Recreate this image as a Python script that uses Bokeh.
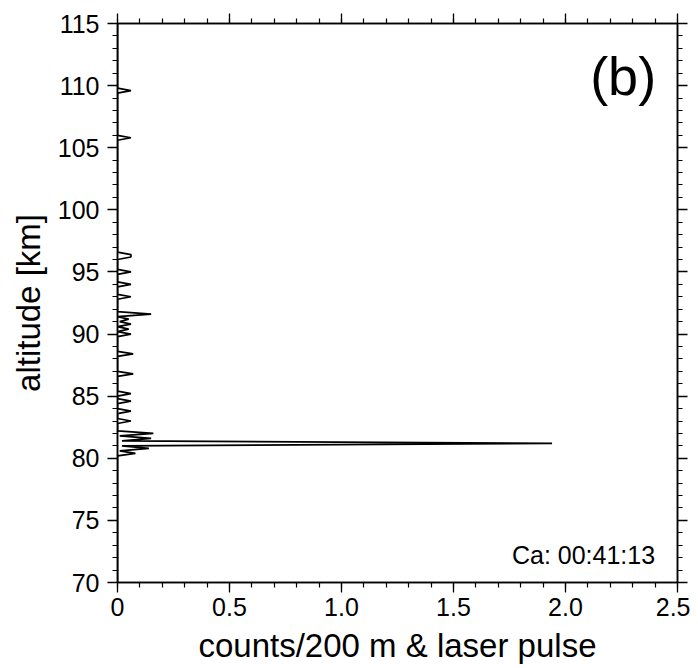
from bokeh.plotting import figure
from bokeh.models import (LinearAxis, SingleIntervalTicker, PrintfTickFormatter,
                          CustomJSTickFormatter, Label, Range1d)
from bokeh.embed import file_html
from bokeh.resources import INLINE

# --- data: altitude profile (km) and counts per 200 m & laser pulse ---
altitude = [70.0, 80.2, 80.4, 80.6, 80.8, 81.0, 81.2, 81.4, 81.6, 81.8, 82.0, 82.2,
            82.8, 83.0, 83.2, 83.6, 83.8, 84.0, 84.4, 84.6, 84.8, 85.0, 85.2, 85.4,
            86.6, 86.8, 87.0, 88.2, 88.4, 88.6, 89.8, 90.0, 90.2, 90.4, 90.6, 90.8,
            91.0, 91.2, 91.4, 91.6, 91.8, 92.8, 93.0, 93.2, 93.8, 94.0, 94.2, 94.8,
            95.0, 95.2, 96.0, 96.2, 96.4, 96.6, 105.6, 105.8, 106.0, 109.4, 109.6,
            109.8, 115.0]
counts = [0.0, 0.0, 0.08, 0.01, 0.14, 0.02, 1.94, 0.02, 0.15, 0.01, 0.16, 0.0,
          0.0, 0.06, 0.0, 0.0, 0.06, 0.0, 0.0, 0.06, 0.0, 0.0, 0.06, 0.0,
          0.0, 0.07, 0.0, 0.0, 0.07, 0.0, 0.0, 0.06, 0.0, 0.05, 0.0, 0.06,
          0.01, 0.05, 0.0, 0.15, 0.0, 0.0, 0.06, 0.0, 0.0, 0.06, 0.0, 0.0,
          0.06, 0.0, 0.0, 0.06, 0.06, 0.0, 0.0, 0.06, 0.0, 0.0, 0.06,
          0.0, 0.0]

x_range = (0.0, 2.5)
y_range = (70.0, 115.0)
x_label = "counts/200 m & laser pulse"
y_label = "altitude [km]"
panel_tag = "(b)"
time_tag = "Ca: 00:41:13"

FONT = "Liberation Sans"

p = figure(output_backend="svg", toolbar_location=None,
           frame_width=560, frame_height=559,
           min_border_left=117, min_border_right=13,
           min_border_top=23, min_border_bottom=86,
           x_range=Range1d(*x_range), y_range=Range1d(*y_range),
           x_axis_location=None, y_axis_location=None,
           background_fill_color="white", border_fill_color="white")
p.xgrid.visible = False
p.ygrid.visible = False
p.outline_line_color = "black"
p.outline_line_width = 1.5


def style(ax, labels=True):
    ax.axis_line_color = "black"
    ax.axis_line_width = 1.5
    ax.major_tick_line_color = "black"
    ax.minor_tick_line_color = "black"
    ax.major_tick_line_width = 1.3
    ax.minor_tick_line_width = 1.2
    ax.major_tick_out = 10
    ax.major_tick_in = 0
    ax.minor_tick_out = 5
    ax.minor_tick_in = 0
    ax.major_label_text_font = FONT
    ax.major_label_text_font_size = "25px"
    ax.major_label_text_color = "black"
    ax.axis_label_text_font = FONT
    ax.axis_label_text_font_size = "33px"
    ax.axis_label_text_font_style = "normal"
    ax.axis_label_text_color = "black"
    if not labels:
        ax.formatter = CustomJSTickFormatter(code="return ''")


xt = SingleIntervalTicker(interval=0.5, num_minor_ticks=5)
yt = SingleIntervalTicker(interval=5, num_minor_ticks=5)

bottom = LinearAxis(ticker=xt, axis_label=x_label,
                    formatter=PrintfTickFormatter(format="%.1f"))
bottom.major_label_overrides = {0: "0"}
style(bottom)
bottom.major_label_standoff = 5
bottom.axis_label_standoff = 8
p.add_layout(bottom, "below")

left = LinearAxis(ticker=yt, axis_label=y_label)
style(left)
left.major_label_standoff = 8
left.axis_label_standoff = 8
p.add_layout(left, "left")

top = LinearAxis(ticker=SingleIntervalTicker(interval=0.5, num_minor_ticks=5))
style(top, labels=False)
p.add_layout(top, "above")

right = LinearAxis(ticker=SingleIntervalTicker(interval=5, num_minor_ticks=5))
style(right, labels=False)
p.add_layout(right, "right")

p.line(x=counts, y=altitude, line_color="black", line_width=1.7)

p.add_layout(Label(x=2.11, y=110.8, text=panel_tag, text_font=FONT,
                   text_font_size="54px", text_baseline="middle",
                   text_align="left", text_color="black"))
p.add_layout(Label(x=2.40, y=72.2, text=time_tag, text_font=FONT,
                   text_font_size="25px", text_baseline="middle",
                   text_align="right", text_color="black"))

open("out.html", "w").write(file_html(p, INLINE))
